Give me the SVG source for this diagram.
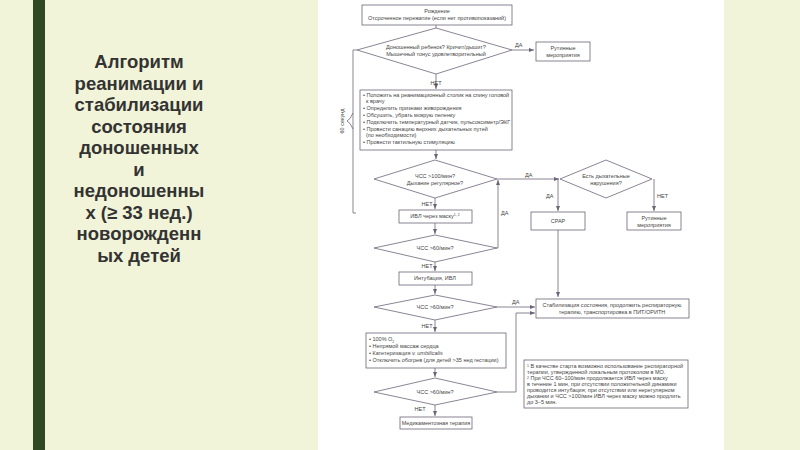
<svg xmlns="http://www.w3.org/2000/svg" width="800" height="450" viewBox="0 0 800 450">
<style>
.b{fill:#fff;stroke:#6e6478;stroke-width:0.8}
.t{font-family:"Liberation Sans",Arial,sans-serif;font-size:5.5px;fill:#444}
.c{text-anchor:middle}
.l{stroke:#6e6478;stroke-width:0.8;fill:none}
.h{font-family:"Liberation Sans",Arial,sans-serif;font-size:18.5px;font-weight:bold;fill:#333;text-anchor:middle}
</style>
<defs><marker id="a" markerWidth="6" markerHeight="6" refX="5" refY="3" orient="auto" markerUnits="userSpaceOnUse"><path d="M0,1 L5,3 L0,5z" fill="#6e6478"/></marker></defs>
<rect width="800" height="450" fill="#f1f4d8"/>
<rect x="33" y="0" width="12" height="450" fill="#2f4a22"/>
<rect x="318" y="0" width="406" height="450" fill="#fff"/>
<g id="title">
<text class="h" x="139" y="68">Алгоритм</text>
<text class="h" x="139" y="90">реанимации и</text>
<text class="h" x="139" y="111">стабилизации</text>
<text class="h" x="139" y="133">состояния</text>
<text class="h" x="139" y="154">доношенных</text>
<text class="h" x="139" y="176">и</text>
<text class="h" x="139" y="197">недоношенны</text>
<text class="h" x="139" y="219">х (≥ 33 нед.)</text>
<text class="h" x="139" y="240">новорожденн</text>
<text class="h" x="139" y="262">ых детей</text>
</g>
<g id="connectors">
<path class="l" d="M436,25V28"/>
<path class="l" d="M512,50H534" marker-end="url(#a)"/>
<path class="l" d="M436,74V89" marker-end="url(#a)"/>
<path class="l" d="M436,150V159" marker-end="url(#a)"/>
<path class="l" d="M497,179H559" marker-end="url(#a)"/>
<path class="l" d="M558,179V211" marker-end="url(#a)"/>
<path class="l" d="M654,179V211" marker-end="url(#a)"/>
<path class="l" d="M435,198V209" marker-end="url(#a)"/>
<path class="l" d="M435,223V234" marker-end="url(#a)"/>
<path class="l" d="M497,248H498V180" marker-end="url(#a)"/>
<path class="l" d="M435,262V271" marker-end="url(#a)"/>
<path class="l" d="M435,285V294" marker-end="url(#a)"/>
<path class="l" d="M497,307H535" marker-end="url(#a)"/>
<path class="l" d="M558,230V297" marker-end="url(#a)"/>
<path class="l" d="M435,320V332" marker-end="url(#a)"/>
<path class="l" d="M435,368V377" marker-end="url(#a)"/>
<path class="l" d="M497,392H516V313H535" marker-end="url(#a)"/>
<path class="l" d="M435,405V416" marker-end="url(#a)"/>
<path class="l" d="M356,213H353V50H357"/>
</g>
<g id="n1"><rect class="b" x="362" y="5" width="150" height="20"/><text class="t c" x="437" y="13">Рождение</text><text class="t c" x="437" y="20">Отсроченное пережатие (если нет противопоказаний)</text></g>
<g id="d1"><path class="b" d="M357,50L436,28L512,50L436,74Z"/><text class="t c" x="436" y="49">Доношенный ребенок? Кричит/дышит?</text><text class="t c" x="436" y="56">Мышечный тонус удовлетворительный</text><text class="t" x="515" y="47">ДА</text><text class="t c" x="436" y="85">НЕТ</text></g>
<g id="n2"><rect class="b" x="536" y="42" width="54" height="19"/><text class="t c" x="563" y="50">Рутинные</text><text class="t c" x="563" y="57">мероприятия</text></g>
<g id="n3"><rect class="b" x="360" y="90" width="152" height="60"/>
<text class="t" x="363" y="97">• Положить на реанимационный столик на спину головой</text>
<text class="t" x="366" y="103">к врачу</text>
<text class="t" x="363" y="110">• Определить признаки живорождения</text>
<text class="t" x="363" y="117">• Обсушить, убрать мокрую пеленку</text>
<text class="t" x="363" y="124">• Подключить температурный датчик, пульсоксиметр/ЭКГ</text>
<text class="t" x="363" y="131">• Провести санацию верхних дыхательных путей</text>
<text class="t" x="366" y="137">(по необходимости)</text>
<text class="t" x="363" y="144">• Провести тактильную стимуляцию</text></g>
<g id="brace"><path class="l" d="M353,113Q350,120 347,121Q350,122 353,129"/><text class="t c" transform="translate(344,121) rotate(-90)">60 секунд</text></g>
<g id="d2"><path class="b" d="M374,179L435,160L497,179L435,198Z"/><text class="t c" x="435" y="178">ЧСС &gt;100/мин?</text><text class="t c" x="435" y="185">Дыхание регулярное?</text><text class="t" x="525" y="177">ДА</text><text class="t c" x="427" y="206">НЕТ</text></g>
<g id="d3"><path class="b" d="M560,179L606,160L652,179L606,198Z"/><text class="t c" x="606" y="178">Есть дыхательные</text><text class="t c" x="606" y="185">нарушения?</text><text class="t" x="546" y="198">ДА</text><text class="t" x="657" y="198">НЕТ</text></g>
<g id="n4"><rect class="b" x="531" y="212" width="54" height="18"/><text class="t c" x="558" y="223">CPAP</text></g>
<g id="n5"><rect class="b" x="627" y="212" width="54" height="18"/><text class="t c" x="654" y="220">Рутинные</text><text class="t c" x="654" y="227">мероприятия</text></g>
<g id="n6"><rect class="b" x="399" y="210" width="73" height="13"/><text class="t c" x="435" y="218">ИВЛ через маску<tspan font-size="3.5" dy="-2">1, 2</tspan></text><text class="t" x="501" y="215">ДА</text></g>
<g id="d4"><path class="b" d="M374,248L435,235L497,248L435,262Z"/><text class="t c" x="435" y="250">ЧСС &gt;60/мин?</text><text class="t c" x="427" y="268">НЕТ</text></g>
<g id="n7"><rect class="b" x="399" y="272" width="73" height="13"/><text class="t c" x="435" y="280">Интубация, ИВЛ</text></g>
<g id="d5"><path class="b" d="M374,307L435,295L497,307L435,320Z"/><text class="t c" x="435" y="309">ЧСС &gt;60/мин?</text><text class="t" x="512" y="304">ДА</text><text class="t c" x="427" y="328">НЕТ</text></g>
<g id="n8"><rect class="b" x="536" y="299" width="153" height="19"/><text class="t c" x="612" y="307">Стабилизация состояния, продолжить респираторную</text><text class="t c" x="612" y="314">терапию, транспортировка в ПИТ/ОРИТН</text></g>
<g id="n9"><rect class="b" x="366" y="333" width="140" height="35"/>
<text class="t" x="369" y="341">• 100% O<tspan font-size="3.5" dy="1.5">2</tspan></text>
<text class="t" x="369" y="348">• Непрямой массаж сердца</text>
<text class="t" x="369" y="355">• Катетеризация <tspan font-style="italic">v. umbilicalis</tspan></text>
<text class="t" x="369" y="362">• Отключить обогрев (для детей &gt;35 нед гестации)</text></g>
<g id="d6"><path class="b" d="M374,392L435,378L497,392L435,405Z"/><text class="t c" x="435" y="394">ЧСС &gt;60/мин?</text><text class="t c" x="420" y="411">НЕТ</text></g>
<g id="n10"><rect class="b" x="400" y="417" width="72" height="12"/><text class="t c" x="436" y="425">Медикаментозная терапия</text></g>
<g id="note"><rect class="b" x="524" y="360" width="164" height="48"/>
<text class="t" x="527" y="368"><tspan font-size="3.5" dy="-1.5">1</tspan><tspan dy="1.5"> В качестве старта возможно использование респираторной</tspan></text>
<text class="t" x="527" y="374">терапии, утвержденной локальным протоколом в МО.</text>
<text class="t" x="527" y="380"><tspan font-size="3.5" dy="-1.5">2</tspan><tspan dy="1.5"> При ЧСС 60–100/мин продолжается ИВЛ через маску</tspan></text>
<text class="t" x="527" y="386">в течение 1 мин, при отсутствии положительной динамики</text>
<text class="t" x="527" y="392">проводится интубация; при отсутствии или нерегулярном</text>
<text class="t" x="527" y="398">дыхании и ЧСС &gt;100/мин ИВЛ через маску можно продлить</text>
<text class="t" x="527" y="404">до 3–5 мин.</text></g>
</svg>
